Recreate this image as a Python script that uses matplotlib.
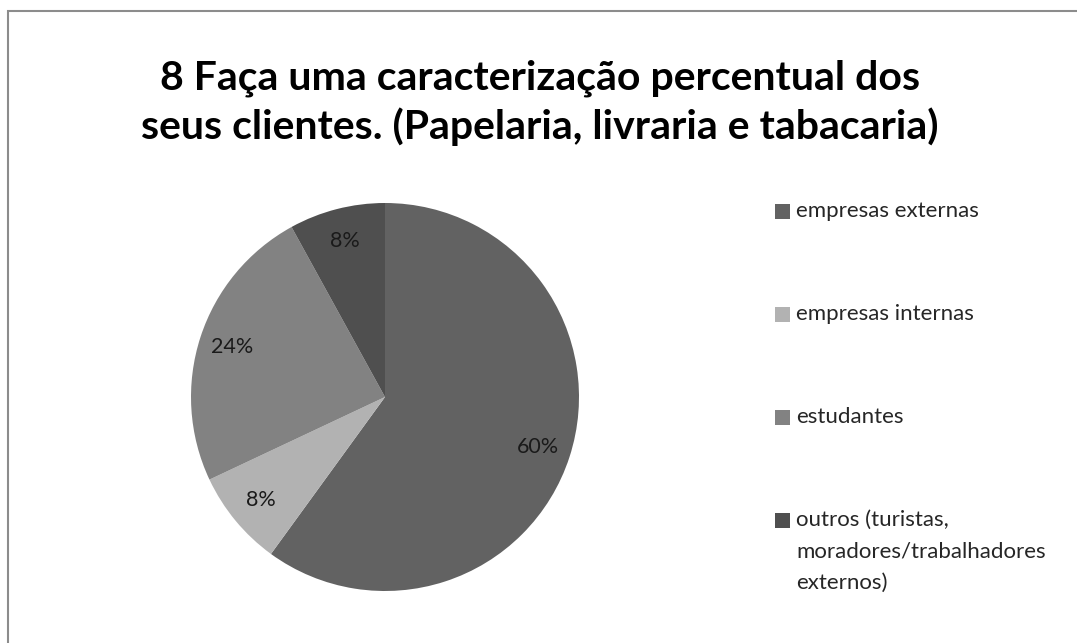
import matplotlib
matplotlib.use("Agg")
import matplotlib.pyplot as plt
from matplotlib.patches import Rectangle

titulo = "8 Faça uma caracterização percentual dos\nseus clientes. (Papelaria, livraria e tabacaria)"
categorias = ["empresas externas", "empresas internas", "estudantes",
              "outros (turistas,\nmoradores/trabalhadores\nexternos)"]
valores = [60, 8, 24, 8]
cores = ["#626262", "#b2b2b2", "#828282", "#4f4f4f"]

plt.rcParams['font.family'] = ['Lato', 'DejaVu Sans']

W, H = 1077, 643
fig = plt.figure(figsize=(W / 100, H / 100), dpi=100)

# moldura do gráfico (cortada à direita e em baixo)
fig.patches.append(Rectangle((8 / W, -0.01), 1.2, (H - 11) / H + 0.01,
                             transform=fig.transFigure, fill=False,
                             edgecolor="#8c8c8c", linewidth=1.5))

fig.text(540 / W, 1 - 103 / H, titulo, ha="center", va="center",
         fontsize=29.5, fontweight="bold", linespacing=1.32, color="black")

cx, cy, r = 385, 397, 194
ax = fig.add_axes([(cx - r) / W, (H - cy - r) / H, 2 * r / W, 2 * r / H])
wedges, textos, autotextos = ax.pie(valores, colors=cores, startangle=90,
                                    counterclock=False, autopct="%d%%",
                                    pctdistance=0.83, radius=1,
                                    textprops={"fontsize": 15.5, "color": "#1a1a1a"})
ax.set_xlim(-1, 1)
ax.set_ylim(-1, 1)
ax.set_aspect("equal")

# legenda à direita: quadrado + texto, alinhados pela primeira linha
ys = [212, 315, 418, 521]
for nome, cor, y in zip(categorias, cores, ys):
    fig.patches.append(Rectangle((775 / W, 1 - (y + 7) / H), 15 / W, 15 / H,
                                 transform=fig.transFigure, facecolor=cor,
                                 edgecolor="none"))
    fig.text(796 / W, 1 - (y - 11) / H, nome, ha="left", va="top",
             fontsize=16, linespacing=1.72, color="#262626")

fig.savefig("out.png", dpi=100)
